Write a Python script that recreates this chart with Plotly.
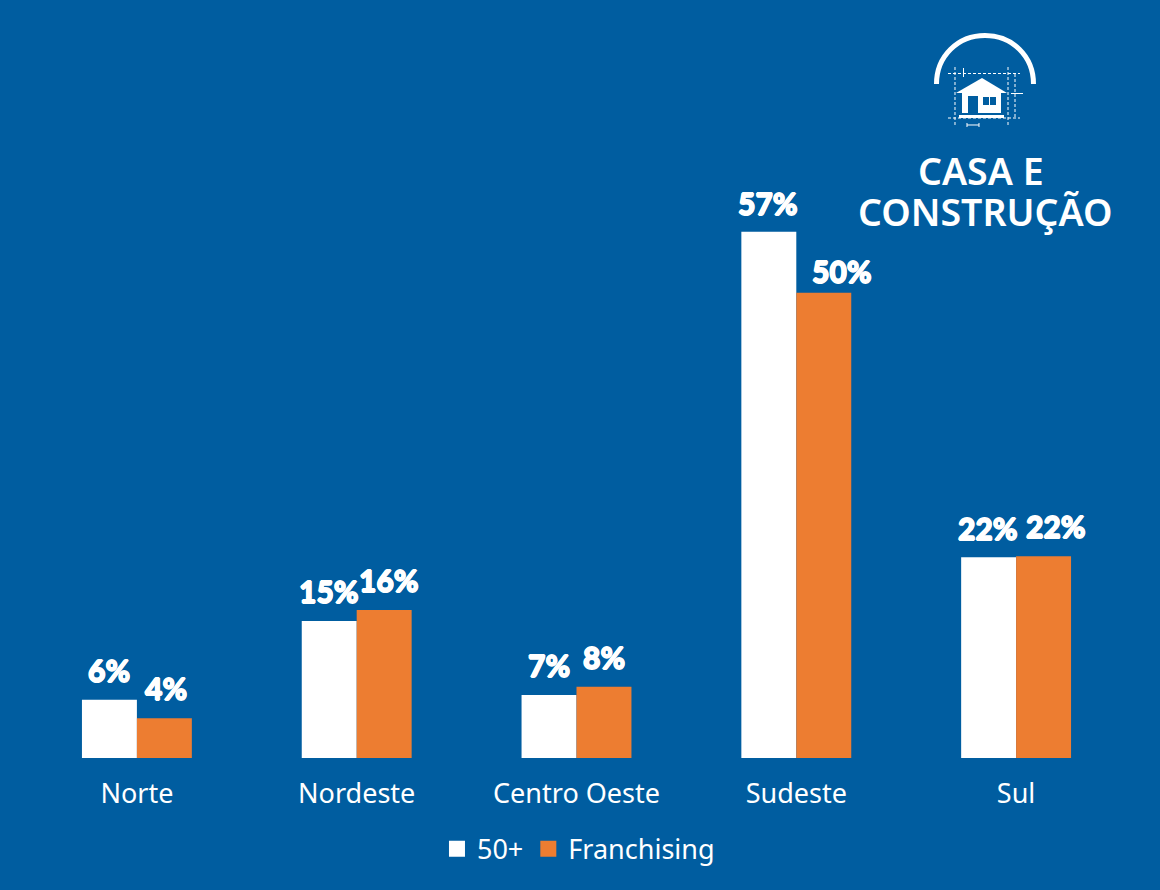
import plotly.graph_objects as go

# ---- data ----
categories = ["Norte", "Nordeste", "Centro Oeste", "Sudeste", "Sul"]
series_50 = [6.3, 14.8, 6.8, 56.9, 21.7]
series_fr = [4.3, 16.0, 7.7, 50.3, 21.8]
labels_50 = ["6%", "15%", "7%", "57%", "22%"]
labels_fr = ["4%", "16%", "8%", "50%", "22%"]

# ---- label placement, in pixels relative to the group centre / bar top ----
dx_50 = [-28, -28, -28, -28, -28]
dy_50 = [30, 30, 30, 29, 29]
dx_fr = [29, 32, 27, 46, 40]
dy_fr = [30, 30, 30, 22, 30]

BG = "#005DA0"
ORANGE = "#ED7D31"
WHITE = "#FFFFFF"
W, H = 1160, 890
L, R, T, B = 27, 34, 18, 132
FONT = "Noto Sans"
HEAVY = "Lato"
THICK = "0.7px 0 0 #fff, -0.7px 0 0 #fff, 0 0.7px 0 #fff, 0 -0.7px 0 #fff"


def px(x):
    return (x - L) / (W - L - R)


def py(y):
    return (H - B - y) / (H - T - B)


def path(cmds):
    out = []
    for c in cmds:
        if c[0] == "Z":
            out.append("Z")
        else:
            pts = " ".join(f"{px(c[i]):.5f},{py(c[i + 1]):.5f}" for i in range(1, len(c), 2))
            out.append(c[0] + pts)
    return " ".join(out)


def logo_shape(cmds, fill=None, line=None, width=0, dash=None):
    s = dict(type="path", xref="paper", yref="paper", path=path(cmds), layer="above")
    s["fillcolor"] = fill if fill else "rgba(0,0,0,0)"
    s["line"] = dict(color=line if line else "rgba(0,0,0,0)", width=width)
    if dash:
        s["line"]["dash"] = dash
    return s


shapes = [
    # arc
    logo_shape([("M", 936.5, 84), ("C", 936.5, 56, 958, 35.5, 985, 35.5), ("C", 1012, 35.5, 1033.5, 56, 1033.5, 84)],
               line=WHITE, width=5),
    # roof
    logo_shape([("M", 956, 93), ("L", 982, 78), ("L", 1007, 93), ("Z",)], fill=WHITE),
    # house body
    logo_shape([("M", 962, 93), ("L", 1001, 93), ("L", 1001, 113), ("L", 962, 113), ("Z",)], fill=WHITE),
    # door and window
    logo_shape([("M", 968, 96), ("L", 978, 96), ("L", 978, 113), ("L", 968, 113), ("Z",)], fill=BG),
    logo_shape([("M", 983, 97), ("L", 996, 97), ("L", 996, 105), ("L", 983, 105), ("Z",)], fill=BG),
    logo_shape([("M", 989.5, 97), ("L", 989.5, 105)], line=WHITE, width=1),
    # base
    logo_shape([("M", 959, 115), ("L", 1004, 115), ("L", 1004, 118), ("L", 959, 118), ("Z",)], fill=WHITE),
    # dashed construction lines
    logo_shape([("M", 948, 73.5), ("L", 1020, 73.5)], line=WHITE, width=1, dash="3px,2px"),
    logo_shape([("M", 948, 118), ("L", 1020, 118)], line=WHITE, width=1, dash="3px,2px"),
    logo_shape([("M", 955, 67), ("L", 955, 125)], line=WHITE, width=1, dash="3px,2px"),
    logo_shape([("M", 1008, 67), ("L", 1008, 125)], line=WHITE, width=1, dash="3px,2px"),
    logo_shape([("M", 1015, 74), ("L", 1015, 118)], line=WHITE, width=1, dash="3px,2px"),
    # ticks and dimension
    logo_shape([("M", 963.5, 68), ("L", 963.5, 77)], line=WHITE, width=1),
    logo_shape([("M", 1011, 93.5), ("L", 1023, 93.5)], line=WHITE, width=1),
    logo_shape([("M", 967, 125), ("L", 979, 125)], line=WHITE, width=1),
    logo_shape([("M", 967, 123), ("L", 967, 127)], line=WHITE, width=1),
    logo_shape([("M", 979, 123), ("L", 979, 127)], line=WHITE, width=1),
]

label_font = dict(family=HEAVY, size=30, color=WHITE, weight=900, shadow=THICK)
annotations = []
for cat, v, t, dx, dy in zip(categories, series_50, labels_50, dx_50, dy_50):
    annotations.append(dict(x=cat, y=v, xref="x", yref="y", text=t, showarrow=False,
                            xshift=dx, yshift=dy, xanchor="center", yanchor="middle", font=label_font))
for cat, v, t, dx, dy in zip(categories, series_fr, labels_fr, dx_fr, dy_fr):
    annotations.append(dict(x=cat, y=v, xref="x", yref="y", text=t, showarrow=False,
                            xshift=dx, yshift=dy, xanchor="center", yanchor="middle", font=label_font))
annotations.append(dict(x=px(981), y=py(170), xref="paper", yref="paper", text="CASA E", showarrow=False,
                        xanchor="center", yanchor="middle",
                        font=dict(family=FONT, size=37.5, color=WHITE, weight=600)))
annotations.append(dict(x=px(985), y=py(211), xref="paper", yref="paper", text="CONSTRUÇÃO", showarrow=False,
                        xanchor="center", yanchor="middle",
                        font=dict(family=FONT, size=37.5, color=WHITE, weight=600)))

fig = go.Figure()
fig.add_bar(x=categories, y=series_50, name="50+", marker=dict(color=WHITE, line_width=0), showlegend=False)
fig.add_bar(x=categories, y=series_fr, name="Franchising", marker=dict(color=ORANGE, line_width=0), showlegend=False)
fig.add_scatter(x=[None], y=[None], mode="markers", name="50+",
                marker=dict(symbol="square", size=16, color=WHITE))
fig.add_scatter(x=[None], y=[None], mode="markers", name="Franchising",
                marker=dict(symbol="square", size=16, color=ORANGE))

fig.update_layout(
    width=W, height=H, autosize=False,
    margin=dict(l=L, r=R, t=T, b=B, pad=0),
    paper_bgcolor=BG, plot_bgcolor=BG,
    barmode="group", bargap=0.5, bargroupgap=0,
    font=dict(family=FONT, size=27, color=WHITE),
    showlegend=True,
    legend=dict(orientation="h", x=0.5018, xanchor="center", y=-0.09, yanchor="top",
                bgcolor="rgba(0,0,0,0)", font=dict(family=FONT, size=27, color=WHITE),
                itemwidth=30, traceorder="normal"),
    shapes=shapes, annotations=annotations,
)
fig.update_xaxes(type="category", categoryorder="array", categoryarray=categories,
                 showgrid=False, zeroline=False, showline=False, ticks="",
                 ticklabelstandoff=17,
                 tickfont=dict(family=FONT, size=27, color=WHITE))
fig.update_yaxes(range=[0, 80], visible=False, showgrid=False, zeroline=False)

fig.write_html("out.html", config=dict(displayModeBar=False),
               post_script="document.body.style.margin='0';document.body.style.overflow='hidden';document.documentElement.style.background='#005DA0';")
